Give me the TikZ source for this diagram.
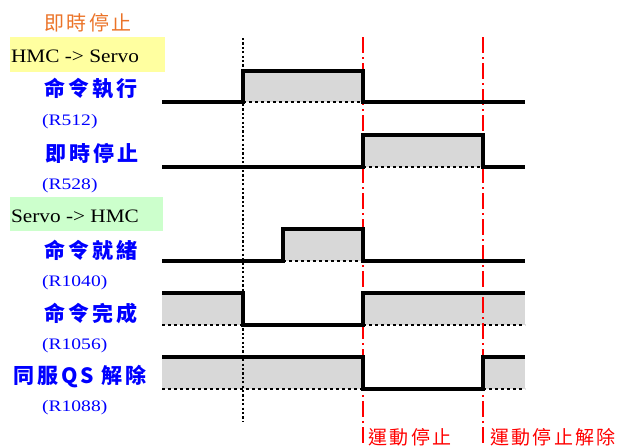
\documentclass[tikz,border=0pt]{standalone}
\usepackage{fontspec}
\setmainfont{Liberation Serif}
\newfontfamily\latf{Liberation Serif}[FakeStretch=1.12]
\newfontfamily\regf{Liberation Serif}[FakeStretch=1.22]
\newfontfamily\cjk{Noto Sans CJK TC}[LetterSpace=13]
\newfontfamily\cjkr{Noto Sans CJK TC}[LetterSpace=12]
\definecolor{sigfill}{RGB}{216,216,216}
\definecolor{ybox}{RGB}{255,255,160}
\definecolor{gbox}{RGB}{204,255,204}
\definecolor{orng}{RGB}{235,115,40}
\definecolor{lblue}{RGB}{0,0,255}
\definecolor{lred}{RGB}{255,0,0}
\tikzset{
  wave/.style={line width=3.2pt, line join=miter},
  baseln/.style={line width=1.5pt, dash pattern=on 3pt off 3pt},
  shade/.style={fill=sigfill, draw=none},
  markln/.style={line width=1.4pt, dash pattern=on 2.2pt off 2.2pt},
  redln/.style={lred, line width=1.3pt, dash pattern=on 16pt off 4pt on 2pt off 4pt},
  signame/.style={font=\cjk\bfseries\fontsize{21}{21}\selectfont, text=lblue, inner sep=0pt},
  regl/.style={font=\regf\fontsize{16}{16}\selectfont, text=lblue, inner sep=0pt, anchor=west},
  dirtxt/.style={font=\latf\fontsize{19}{19}\selectfont, text=black, inner sep=0pt},
  redtxt/.style={font=\cjkr\fontsize{19}{19}\selectfont, text=lred, inner sep=0pt},
  ortxt/.style={font=\cjkr\fontsize{20}{20}\selectfont, text=orng, inner sep=0pt}
}
\begin{document}
\begin{tikzpicture}[x=1pt,y=-1pt]
\useasboundingbox (0,0) rectangle (621,447);
% header boxes
\fill[ybox] (10,37) rectangle (165,72);
\fill[gbox] (10,197) rectangle (163,231);
\node[ortxt] (title) at (88,23) {即時停止};
\node[dirtxt] (hs) at (75,56) {HMC -> Servo};
\node[dirtxt] (sh) at (75,216) {Servo -> HMC};
% signal labels
\node[signame] (n1) at (91,89) {命令執行};
\node[regl] (r1) at (42,122) {(R512)};
\node[signame] (n2) at (92,153) {即時停止};
\node[regl] (r2) at (42,186) {(R528)};
\node[signame] (n3) at (91,250) {命令就緒};
\node[regl] (r3) at (42,283) {(R1040)};
\node[signame] (n4) at (91,313) {命令完成};
\node[regl] (r4) at (42,346) {(R1056)};
\node[signame] (n5) at (80,377) {同服QS 解除};
\node[regl] (r5) at (42,408) {(R1088)};
% fills
\fill[shade] (243,71) rectangle (363,102);
\fill[shade] (363,135) rectangle (483,167);
\fill[shade] (283,229) rectangle (363,261);
\fill[shade] (162,293) rectangle (243,325);
\fill[shade] (363,293) rectangle (525,325);
\fill[shade] (162,357) rectangle (363,389);
\fill[shade] (483,357) rectangle (525,389);
% dotted baselines
\draw[baseln] (243,102) -- (363,102);
\draw[baseln] (363,167) -- (483,167);
\draw[baseln] (283,261) -- (363,261);
\draw[baseln] (162,325) -- (243,325);
\draw[baseln] (363,325) -- (525,325);
\draw[baseln] (162,389) -- (363,389);
\draw[baseln] (483,389) -- (525,389);
% vertical markers
\draw[markln] (243,38) -- (243,422);
\draw[redln] (363,37) -- (363,447);
\draw[redln] (483,37) -- (483,447);
% waveforms
\draw[wave] (162,102) -- (243,102) -- (243,71) -- (363,71) -- (363,102) -- (525,102);
\draw[wave] (162,167) -- (363,167) -- (363,135) -- (483,135) -- (483,167) -- (525,167);
\draw[wave] (162,261) -- (283,261) -- (283,229) -- (363,229) -- (363,261) -- (525,261);
\draw[wave] (162,293) -- (243,293) -- (243,325) -- (363,325) -- (363,293) -- (525,293);
\draw[wave] (162,357) -- (363,357) -- (363,389) -- (483,389) -- (483,357) -- (525,357);
% bottom labels
\node[redtxt] (stop) at (410,437) {運動停止};
\node[redtxt] (rel) at (553,437) {運動停止解除};
\end{tikzpicture}
\end{document}
